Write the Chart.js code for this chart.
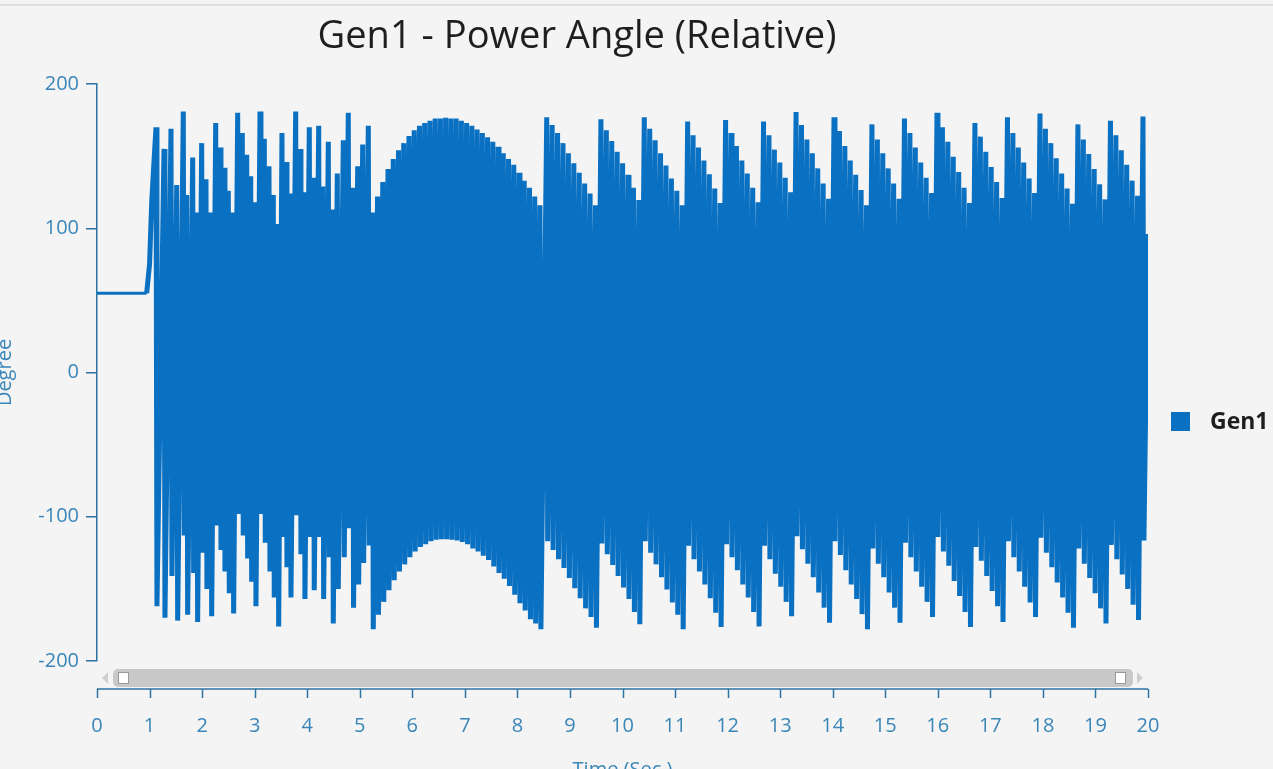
<!DOCTYPE html>
<html>
<head>
<meta charset="utf-8">
<script src="https://cdn.jsdelivr.net/npm/chart.js@4.4.1/dist/chart.umd.min.js"></script>
<style>
  html, body { margin:0; padding:0; background:#f4f4f4; overflow:hidden; width:1273px; height:769px; }
  #topline { position:absolute; left:0; top:4px; width:1273px; height:2px; background:#dedede; }
  #wrap { position:absolute; left:-20px; top:0; width:1320px; height:786px; }
</style>
</head>
<body>
<div id="topline"></div>
<div id="wrap"><canvas id="c" width="1320" height="786"></canvas></div>
<script>
// ---------------- data ----------------
const seriesLabel = 'Gen1';
const xTickLabels = [0,1,2,3,4,5,6,7,8,9,10,11,12,13,14,15,16,17,18,19,20];
const yTickLabels = [-200,-100,0,100,200];

// pre-fault steady value and the first rise
const startTimes  = [0, 0.945, 1.0, 1.04, 1.09];
const startValues = [55, 55, 75, 117, 150];

// first (irregular) slipping section: top of each cycle and the value right after the wrap
const segATimes = [1.123,1.275,1.408,1.517,1.642,1.707,1.821,1.897,1.992,2.074,2.164,2.259,2.341,2.417,2.499,2.582,2.677,2.765,2.849,2.925,3.007,3.102,3.184,3.273,3.355,3.439,3.520,3.597,3.673,3.781,3.863,3.939,4.040,4.116,4.219,4.295,4.402,4.478,4.573,4.687,4.782,4.864,4.961,5.056,5.163];
const segATops = [170,155,169,130,181,123,149,111,159,134,111,173,156,142,126,111,180,166,151,136,118,181,162,143,123,103,166,146,124,181,155,125,170,135,171,129,160,113,138,161,180,128,143,158,171];
const segABottoms = [-162,-170,-141,-172,-113,-168,-139,-173,-125,-150,-169,-106,-123,-138,-153,-167,-98,-113,-129,-145,-162,-98,-118,-138,-156,-176,-114,-135,-156,-99,-126,-157,-114,-151,-114,-157,-128,-174,-150,-128,-108,-163,-147,-132,-120];

// dome section (about 5.2 s to 8.4 s)
const domeStart = 5.239, domeStep = 0.0997;
const domeTops = [111,122,132,141,148,154,159,164,168,171,173,174.5,176,176,176.6,176,176,174.5,173,171,168.5,166,163,160,156.5,152,148,144,138.5,133,128,122,116];
const domeBottoms = [-178,-168,-159,-151,-144,-138,-133,-128,-124,-121,-119,-117,-116,-115.6,-115.6,-116,-116.5,-117.5,-119,-122,-124,-127,-130,-134.5,-139,-143,-148,-154,-160,-165,-171,-174,-178];

// regular slipping section (about 8.5 s to 20 s)
const slipStart = 8.558, slipStep = 0.10315;
const slipTops = [
  177,171.5,166,159,152,145,138.5,131,124,116,
  175.5,168,160.5,153,145,137,128,119.5,
  177,169,161,152,143.5,134.5,126,116,
  174,164.5,156,147,137.5,127.5,117.5,
  175,166,157,147,138,128,118,
  174,164.5,154.5,145.5,135,125,
  180.5,171.5,161.5,152,141.5,131,120.5,
  177,167.5,157,147,137,126.5,116,
  172,161.5,152,141.5,131,120.5,
  176,166,156,145.5,135,124.5,
  180,170,160,149.5,139,128,117.5,
  173,163.5,153,142.5,132,121,
  177,166,156,145.5,134.5,124.5,
  179.5,169,159,148.5,138,127.5,117,
  172,161.5,151.5,141,130.5,120,
  174.5,164.5,154,144,133,122.5,
  177.5];
const slipBottoms = [
  -117,-123,-129.5,-135.5,-142.5,-149.5,-156.5,-163.5,-169.5,-177,
  -118.5,-126,-133.5,-141,-149,-157,-166,-174.5,
  -117,-125,-133,-142,-150.5,-159.5,-168,-178,
  -120,-129.5,-138,-147,-156.5,-166.5,-176.5,
  -119,-128,-137,-147,-156,-166,-176,
  -120,-129.5,-139.5,-148.5,-159,-169,
  -113.5,-122.5,-132.5,-142,-152.5,-163,-173.5,
  -117,-126.5,-137,-147,-157,-167.5,-178,
  -122,-132.5,-142,-152.5,-163,-173.5,
  -118,-128,-138,-148.5,-159,-169.5,
  -114,-124,-134,-144.5,-155,-166,-176.5,
  -121,-130.5,-141,-151.5,-162,-173,
  -117,-128,-138,-148.5,-159.5,-169.5,
  -114.5,-125,-135,-145.5,-156,-166.5,-177,
  -122,-132.5,-142.5,-153,-163.5,-174,
  -119.5,-129.5,-140,-150,-161,-171.5,
  -116.5];
const endTime = 20, endValue = 96;
const wrapDelay = 0.018; // time of one sample: the wrap from +top to bottom

// ---------------- build the series ----------------
const points = [];
startTimes.forEach((t, i) => points.push({x: t, y: startValues[i]}));
segATimes.forEach((t, i) => {
  points.push({x: t, y: segATops[i]});
  points.push({x: t + wrapDelay, y: segABottoms[i]});
});
domeTops.forEach((v, i) => {
  const t = domeStart + i * domeStep;
  points.push({x: t, y: v});
  points.push({x: t + wrapDelay, y: domeBottoms[i]});
});
slipTops.forEach((v, i) => {
  const t = slipStart + i * slipStep;
  points.push({x: t, y: v});
  points.push({x: t + wrapDelay, y: slipBottoms[i]});
});
points.push({x: endTime, y: endValue});

// ---------------- styles ----------------
const lineColor = '#0a70c2';
const axisColor = '#2c73a0';
const tickColor = '#3a86b8';
const tickFont = {family: '"Open Sans", "Noto Sans", sans-serif', size: 20};

const decor = {
  id: 'decor',
  afterDraw(chart) {
    const ctx = chart.ctx;
    const ca = chart.chartArea;
    const xs = chart.scales.x;
    ctx.save();
    // title
    const title = 'Gen1 - Power Angle (Relative)';
    ctx.font = '400 32px "Open Sans", "Noto Sans", sans-serif';
    const w = ctx.measureText(title).width;
    const size = 32 * 519 / w;
    ctx.font = '400 ' + size.toFixed(2) + 'px "Open Sans", "Noto Sans", sans-serif';
    ctx.fillStyle = '#1e1e1e';
    ctx.textAlign = 'center';
    ctx.textBaseline = 'middle';
    ctx.fillText(title, ca.left + 480, 37);

    // range slider
    const sy = ca.bottom + 8, sh = 18;
    ctx.fillStyle = '#c8c8c8';
    ctx.beginPath();
    if (ctx.roundRect) ctx.roundRect(ca.left + 16, sy, ca.width - 31, sh, 5); else ctx.rect(ca.left + 16, sy, ca.width - 31, sh);
    ctx.fill();
    ctx.fillStyle = '#ffffff';
    ctx.strokeStyle = '#9a9a9a';
    ctx.lineWidth = 1;
    ctx.fillRect(ca.left + 21.5, sy + 3.5, 10, 11);
    ctx.strokeRect(ca.left + 21.5, sy + 3.5, 10, 11);
    ctx.fillRect(ca.right - 32.5, sy + 3.5, 10, 11);
    ctx.strokeRect(ca.right - 32.5, sy + 3.5, 10, 11);
    ctx.fillStyle = '#cfcfcf';
    ctx.beginPath();
    ctx.moveTo(ca.left + 5, sy + sh / 2); ctx.lineTo(ca.left + 11, sy + 3); ctx.lineTo(ca.left + 11, sy + sh - 3); ctx.closePath(); ctx.fill();
    ctx.beginPath();
    ctx.moveTo(ca.right - 5, sy + sh / 2); ctx.lineTo(ca.right - 11, sy + 3); ctx.lineTo(ca.right - 11, sy + sh - 3); ctx.closePath(); ctx.fill();

    // x axis line and ticks
    const ay = ca.bottom + 28;
    ctx.strokeStyle = axisColor;
    ctx.lineWidth = 1.5;
    ctx.beginPath();
    ctx.moveTo(ca.left, ay); ctx.lineTo(ca.right, ay);
    xs.ticks.forEach(tk => {
      const px = Math.round(xs.getPixelForValue(tk.value)) + 0.5;
      ctx.moveTo(px, ay); ctx.lineTo(px, ay + 9);
    });
    ctx.stroke();

    // legend
    const ds = chart.data.datasets[0];
    ctx.fillStyle = ds.backgroundColor;
    ctx.fillRect(ca.right + 23, 412, 19, 19);
    ctx.fillStyle = '#1e1e1e';
    ctx.font = '700 23px "Open Sans", "Noto Sans", sans-serif';
    ctx.textAlign = 'left';
    ctx.textBaseline = 'middle';
    ctx.fillText(ds.label, ca.right + 62, 422);
    ctx.restore();
  }
};

new Chart(document.getElementById('c'), {
  type: 'line',
  data: {
    datasets: [{
      label: seriesLabel,
      data: points,
      borderColor: lineColor,
      backgroundColor: lineColor,
      borderWidth: 5,
      borderJoinStyle: 'bevel',
      borderCapStyle: 'butt',
      segment: {
        borderWidth: c => (c.p1.parsed.x <= startTimes[1] ? 3 : 5)
      },
      pointRadius: 0,
      tension: 0,
      fill: false
    }]
  },
  options: {
    responsive: false,
    animation: false,
    layout: { padding: { top: 84, right: 152, bottom: 0, left: 0 } },
    plugins: { legend: { display: false }, title: { display: false }, tooltip: { enabled: false } },
    scales: {
      x: {
        type: 'linear', min: xTickLabels[0], max: xTickLabels[xTickLabels.length - 1],
        afterBuildTicks(scale) { scale.ticks = xTickLabels.map(v => ({value: v})); },
        ticks: { color: tickColor, font: tickFont, padding: 53, maxRotation: 0, autoSkip: false },
        grid: { display: false, drawTicks: false },
        border: { display: false },
        title: { display: true, text: 'Time (Sec.)', color: tickColor, font: {family: '"Open Sans", sans-serif', size: 20}, padding: {top: 0, bottom: 4} },
        afterFit(scale) { scale.height = 125; }
      },
      y: {
        min: yTickLabels[0], max: yTickLabels[yTickLabels.length - 1],
        afterBuildTicks(scale) { scale.ticks = yTickLabels.map(v => ({value: v})); },
        ticks: { color: tickColor, font: tickFont, padding: 7 },
        grid: { drawOnChartArea: false, drawTicks: true, tickLength: 11, color: axisColor, lineWidth: 1.5 },
        border: { display: true, color: axisColor, width: 1.5 },
        title: { display: true, text: 'Degree', color: tickColor, font: {family: '"Open Sans", sans-serif', size: 20}, padding: {top: 13, bottom: 0} },
        afterFit(scale) { scale.width = 117; }
      }
    }
  },
  plugins: [decor]
});
</script>
</body>
</html>
